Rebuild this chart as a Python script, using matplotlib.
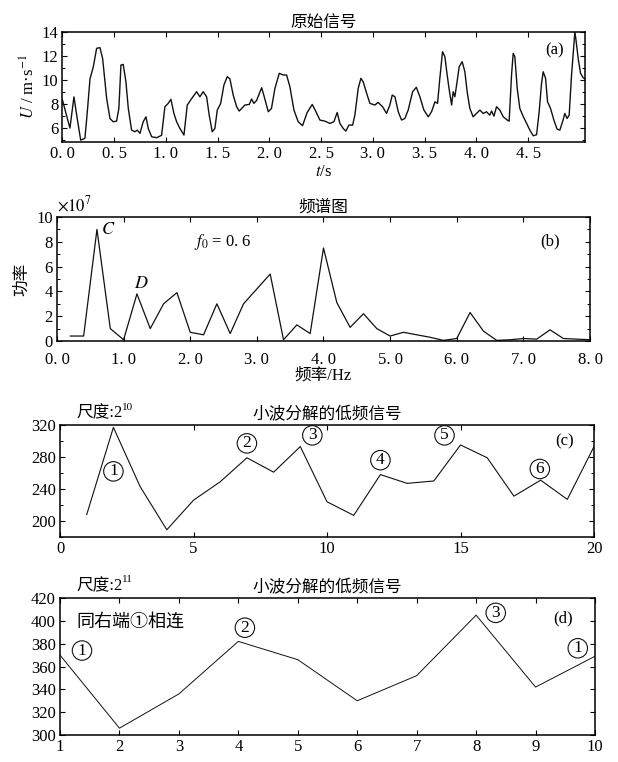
import numpy as np
import matplotlib
matplotlib.use('Agg')
import matplotlib.pyplot as plt
from matplotlib.ticker import MultipleLocator

plt.rcParams['font.family'] = ['Liberation Serif', 'Noto Sans CJK SC']
plt.rcParams['mathtext.fontset'] = 'stix'
plt.rcParams['font.size'] = 12

#-- (a) raw signal
t_raw = [0.0, 0.072, 0.111, 0.137, 0.176, 0.217, 0.24, 0.266, 0.298, 0.33, 0.362, 0.388,
         0.427, 0.459, 0.49, 0.523, 0.545, 0.565, 0.587, 0.613, 0.636, 0.668, 0.70, 0.723,
         0.749, 0.78, 0.807, 0.829, 0.862, 0.91, 0.958, 0.99, 1.022, 1.048, 1.077, 1.103,
         1.135, 1.174, 1.206, 1.238, 1.296, 1.328, 1.36, 1.393, 1.418, 1.447, 1.473, 1.496,
         1.529, 1.56, 1.592, 1.618, 1.65, 1.683, 1.708, 1.763, 1.805, 1.828, 1.85, 1.876,
         1.925, 1.95, 1.989, 2.02, 2.053, 2.095, 2.133, 2.166, 2.198, 2.237, 2.278, 2.32,
         2.365, 2.414, 2.45, 2.488, 2.536, 2.585, 2.623, 2.655, 2.681, 2.713, 2.739, 2.768,
         2.804, 2.826, 2.858, 2.884, 2.906, 2.94, 2.971, 3.019, 3.05, 3.094, 3.132, 3.164,
         3.187, 3.213, 3.245, 3.277, 3.309, 3.341, 3.384, 3.42, 3.454, 3.493, 3.535, 3.567,
         3.60, 3.625, 3.647, 3.673, 3.696, 3.718, 3.738, 3.761, 3.776, 3.792, 3.809, 3.834,
         3.863, 3.889, 3.911, 3.937, 3.969, 4.002, 4.034, 4.066, 4.098, 4.13, 4.147, 4.17,
         4.195, 4.227, 4.26, 4.298, 4.317, 4.34, 4.356, 4.372, 4.395, 4.42, 4.454, 4.486,
         4.517, 4.55, 4.582, 4.607, 4.63, 4.646, 4.669, 4.688, 4.717, 4.749, 4.78, 4.807,
         4.838, 4.855, 4.877, 4.897, 4.92, 4.935, 4.952, 4.962, 4.984, 5.007, 5.032, 5.05]
u_raw = [8.33, 6.0, 8.6, 7.1, 5.0, 5.15, 7.36, 10.1, 11.1, 12.64, 12.7, 11.8,
         8.47, 6.8, 6.53, 6.58, 7.64, 11.25, 11.3, 9.86, 7.64, 5.83, 5.7, 5.83,
         5.56, 6.53, 6.94, 5.97, 5.28, 5.2, 5.4, 7.78, 8.06, 8.4, 7.22, 6.53,
         5.97, 5.42, 7.92, 8.33, 9.03, 8.61, 9.03, 8.61, 7.08, 5.7, 5.97, 7.5,
         8.06, 9.58, 10.28, 10.1, 8.75, 7.78, 7.42, 7.92, 7.97, 8.42, 8.06, 8.3,
         9.36, 8.61, 7.36, 7.64, 9.3, 10.56, 10.42, 10.42, 9.44, 7.5, 6.53, 6.2,
         7.3, 7.97, 7.36, 6.67, 6.58, 6.39, 6.53, 7.3, 6.39, 5.97, 5.75, 6.25,
         6.25, 7.08, 9.3, 10.14, 9.86, 8.89, 8.06, 7.92, 8.14, 7.78, 7.22, 7.92,
         8.75, 8.61, 7.36, 6.67, 6.8, 7.5, 9.03, 9.4, 8.61, 7.5, 6.94, 7.36,
         8.19, 8.06, 10.14, 12.36, 11.94, 10.42, 9.17, 7.92, 9.03, 8.61, 9.58, 11.1,
         11.53, 10.69, 9.03, 7.64, 6.94, 7.22, 7.5, 7.22, 7.36, 7.08, 7.42, 7.0,
         7.78, 7.5, 6.94, 6.67, 6.58, 10.42, 12.22, 11.94, 9.3, 7.64, 6.94, 6.39,
         5.83, 5.36, 5.45, 7.36, 9.72, 10.69, 10.14, 8.19, 7.64, 6.67, 5.92, 5.83,
         6.67, 7.22, 6.8, 7.08, 10.42, 12.08, 14.0, 13.4, 11.8, 10.56, 10.2, 10.1]
a_xticks = [0.0, 0.5, 1.0, 1.5, 2.0, 2.5, 3.0, 3.5, 4.0, 4.5]
a_yticks = [6, 8, 10, 12, 14]

#-- (b) spectrum (x1e7)
freq = [0.2, 0.4, 0.6, 0.8, 1.0, 1.2, 1.4, 1.6, 1.8, 2.0, 2.2, 2.4, 2.6, 2.8, 3.0, 3.2,
        3.4, 3.6, 3.8, 4.0, 4.2, 4.4, 4.6, 4.8, 5.0, 5.2, 5.4, 5.6, 5.8, 6.0, 6.2, 6.4,
        6.6, 6.8, 7.0, 7.2, 7.4, 7.6, 7.8, 8.0]
power = [0.4, 0.4, 9.0, 1.0, 0.1, 3.8, 1.0, 3.0, 3.9, 0.7, 0.5, 3.0, 0.6, 3.0, 4.2, 5.4,
         0.1, 1.3, 0.6, 7.5, 3.1, 1.1, 2.2, 1.0, 0.4, 0.7, 0.5, 0.3, 0.05, 0.2, 2.3, 0.8,
         0.05, 0.1, 0.2, 0.15, 0.9, 0.2, 0.15, 0.1]
b_xticks = [0.0, 1.0, 2.0, 3.0, 4.0, 5.0, 6.0, 7.0, 8.0]
b_yticks = [0, 2, 4, 6, 8, 10]

#-- (c) low-frequency signal, scale 2^10
c_x = list(range(1, 21))
c_y = [208, 317, 243, 189, 226, 249, 279, 261, 293, 224, 207, 258, 247, 250, 295, 279,
       231, 251, 227, 293]
c_marks = ['1', '2', '3', '4', '5', '6']
c_mark_x = [2.0, 7.0, 9.45, 12.0, 14.4, 17.97]
c_mark_y = [262, 297, 307, 276, 307, 265]

#-- (d) low-frequency signal, scale 2^11
d_x = list(range(1, 11))
d_y = [370, 306, 336, 382, 366, 330, 352, 405, 342, 369]
d_marks = ['1', '2', '3', '1']
d_mark_x = [1.37, 4.11, 8.33, 9.71]
d_mark_y = [374, 394, 407, 376]


def frame(ax):
    for s in ax.spines.values():
        s.set_linewidth(1.1)
    ax.tick_params(which='both', direction='in', top=True, right=True,
                   labelsize=12, pad=3)
    ax.tick_params(which='major', length=3.5, width=0.8)
    ax.tick_params(which='minor', length=2.5, width=0.7)


def fmt(v):
    return ('%.1f' % v).replace('.', '. ')


def circled(ax, x, y, s):
    ax.text(x, y, s, fontsize=12.5, ha='center', va='center',
            bbox=dict(boxstyle='circle,pad=0.1', fc='none', ec='#111111', lw=0.8))


def scale_label(ax, power_txt):
    t = ax.text(0.03, 1.03, '尺度:2', transform=ax.transAxes, fontsize=12,
                ha='left', va='bottom')
    ax.annotate(power_txt, xy=(1.0, 0.62), xycoords=t, fontsize=8,
                ha='left', va='bottom')


fig = plt.figure(figsize=(6.18, 7.62), dpi=100)

# (a)
ax = fig.add_axes([0.1011, 0.8136, 0.8455, 0.1444])
ax.plot(t_raw, u_raw, color='#111111', lw=1.0)
ax.set_xlim(0, 5.05)
ax.set_ylim(4.84, 14)
ax.set_xticks(a_xticks, [fmt(v) for v in a_xticks])
ax.set_yticks(a_yticks)
ax.yaxis.set_minor_locator(MultipleLocator(1))
frame(ax)
ax.set_title('原始信号', fontsize=12, pad=4)
ax.set_xlabel('$t$/s', fontsize=12, labelpad=1)
ax.set_ylabel('$U$ / m·s$^{-1}$', fontsize=12, labelpad=2)
ax.text(4.76, 12.5, '(a)', fontsize=12, ha='center', va='center')

# (b)
ax = fig.add_axes([0.0922, 0.5525, 0.8625, 0.1627])
ax.plot(freq, power, color='#111111', lw=0.9)
ax.set_xlim(0, 8)
ax.set_ylim(0, 10)
ax.set_xticks(b_xticks, [fmt(v) for v in b_xticks])
ax.set_yticks(b_yticks)
ax.yaxis.set_minor_locator(MultipleLocator(1))
frame(ax)
ax.tick_params(axis='x', pad=8)
ax.set_title('频谱图', fontsize=12, pad=4)
ax.set_xlabel('频率/Hz', fontsize=12, labelpad=0)
ax.set_ylabel('功率', fontsize=12, labelpad=4)
ax.text(0.0, 1.02, r'$\times10^7$', transform=ax.transAxes, fontsize=12,
        ha='left', va='bottom')
ax.text(0.66, 9.0, '$C$', fontsize=13, ha='left', va='center')
ax.text(1.26, 4.6, '$D$', fontsize=13, ha='center', va='center')
ax.text(2.05, 8.0, '$f_0$ = 0. 6', fontsize=12, ha='left', va='center')
ax.text(7.4, 8.0, '(b)', fontsize=12, ha='center', va='center')

# (c)
ax = fig.add_axes([0.0971, 0.2953, 0.8641, 0.147])
ax.plot(c_x, c_y, color='#111111', lw=0.8)
ax.set_xlim(0, 20)
ax.set_ylim(180, 320)
ax.set_xticks([0, 5, 10, 15, 20])
ax.set_yticks([200, 240, 280, 320])
ax.yaxis.set_minor_locator(MultipleLocator(20))
frame(ax)
ax.set_title('小波分解的低频信号', fontsize=12, pad=4)
scale_label(ax, '10')
for m, mx, my in zip(c_marks, c_mark_x, c_mark_y):
    circled(ax, mx, my, m)
ax.text(18.9, 300, '(c)', fontsize=12, ha='center', va='center')

# (d)
ax = fig.add_axes([0.0971, 0.0354, 0.8657, 0.1798])
ax.plot(d_x, d_y, color='#111111', lw=0.7)
ax.set_xlim(1, 10)
ax.set_ylim(300, 420)
ax.set_xticks(d_x)
ax.set_yticks([300, 320, 340, 360, 380, 400, 420])
frame(ax)
ax.set_title('小波分解的低频信号', fontsize=12, pad=4)
scale_label(ax, '11')
ax.text(1.27, 399, '同右端①相连', fontsize=13, ha='left', va='center')
for m, mx, my in zip(d_marks, d_mark_x, d_mark_y):
    circled(ax, mx, my, m)
ax.text(9.47, 402, '(d)', fontsize=12, ha='center', va='center')

fig.savefig('out.png', dpi=100)
